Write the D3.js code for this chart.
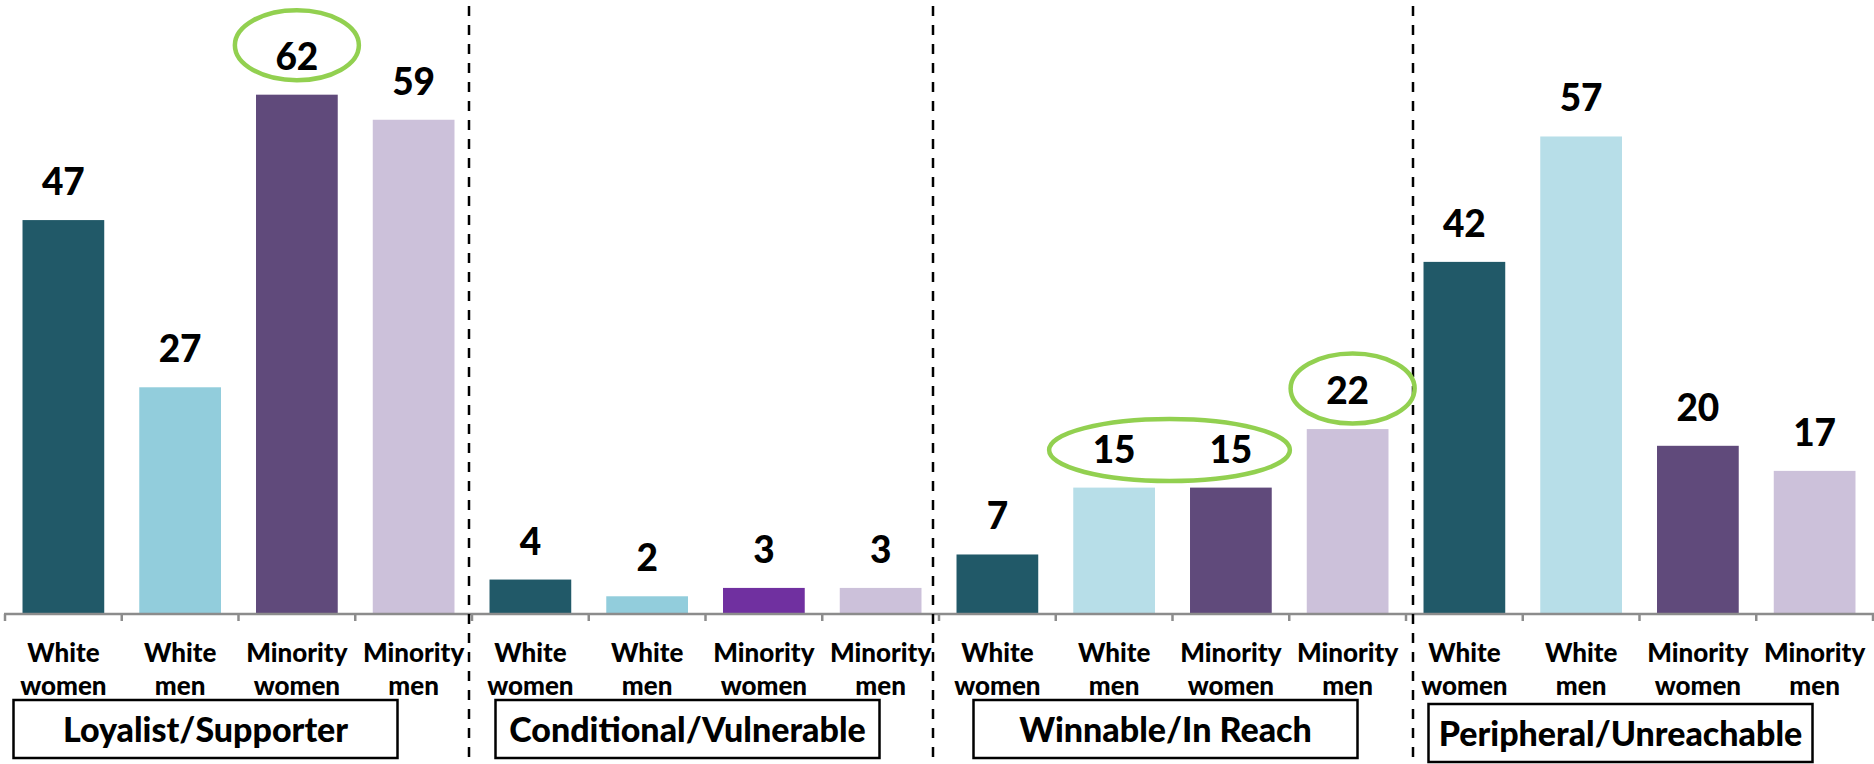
<!DOCTYPE html>
<html>
<head>
<meta charset="utf-8">
<script src="https://cdn.jsdelivr.net/npm/d3@7"></script>
<style>
  html, body { margin: 0; padding: 0; background: #fff; }
  svg { display: block; font-family: Lato, "Open Sans", sans-serif; font-weight: 900; }
</style>
</head>
<body>
<div id="chart"></div>
<script>
// data
const segments = ["Loyalist/Supporter", "Conditional/Vulnerable", "Winnable/In Reach", "Peripheral/Unreachable"];
const groups = [["White", "women"], ["White", "men"], ["Minority", "women"], ["Minority", "men"]];
const loyalist = [47, 27, 62, 59];
const conditional = [4, 2, 3, 3];
const winnable = [7, 15, 15, 22];
const peripheral = [42, 57, 20, 17];
// highlighted labels (first and last bar index of each ring)
const rings = [[2, 2], [9, 10], [11, 11]];

// styles
const segmentColors = [
  ["#215968", "#92cddc", "#604a7b", "#ccc1da"],
  ["#215968", "#92cddc", "#7030a0", "#ccc1da"],
  ["#215968", "#b7dee8", "#604a7b", "#ccc1da"],
  ["#215968", "#b7dee8", "#604a7b", "#ccc1da"],
];
const ringNudge = [[0, -11], [-3, 1], [5, -2]];
const dividerNudge = [-3, -6, 7];
const boxNudge = [-33, -18, -7, -19];

const width = 1874;
const height = 764;
const baseY = 613;

const rows = [];
[loyalist, conditional, winnable, peripheral].forEach((vals, s) => {
  vals.forEach((v, g) => {
    rows.push({ i: s * 4 + g, seg: s, grp: g, value: v, color: segmentColors[s][g] });
  });
});

const svg = d3.select("#chart").append("svg").attr("width", width).attr("height", height);

const x = d3.scaleBand()
  .domain(d3.range(rows.length))
  .range([5, 1873])
  .paddingInner(0.3)
  .paddingOuter(0.15);
const step = x.step();
const center = (i) => x(i) + x.bandwidth() / 2;
const edge = (i) => x(i) - step * 0.15;

const y = d3.scaleLinear().domain([0, 70]).range([baseY, baseY - 70 * 8.36]);

// Draw bars
svg.append("g")
  .selectAll("rect")
  .data(rows)
  .enter()
  .append("rect")
  .attr("x", (d) => x(d.i))
  .attr("width", x.bandwidth())
  .attr("y", (d) => y(d.value))
  .attr("height", (d) => y(0) - y(d.value))
  .attr("fill", (d) => d.color);

// Value labels
svg.append("g")
  .selectAll("text")
  .data(rows)
  .enter()
  .append("text")
  .attr("x", (d) => center(d.i))
  .attr("y", (d) => y(d.value) - 25)
  .attr("text-anchor", "middle")
  .attr("font-size", 37)
  .attr("fill", "#000")
  .text((d) => d.value);

// Axis line and ticks
const axis = svg.append("g").attr("stroke", "#8c8c8c").attr("stroke-width", 2.5);
axis.append("line").attr("x1", 4).attr("x2", width).attr("y1", baseY + 1).attr("y2", baseY + 1);
axis.selectAll(".tick")
  .data(d3.range(rows.length + 1))
  .enter()
  .append("line")
  .attr("x1", (i) => (i < rows.length ? edge(i) : 1873))
  .attr("x2", (i) => (i < rows.length ? edge(i) : 1873))
  .attr("y1", baseY + 1)
  .attr("y2", baseY + 8);

// Category labels
const cat = svg.append("g")
  .selectAll("text")
  .data(rows)
  .enter()
  .append("text")
  .attr("text-anchor", "middle")
  .attr("font-size", 26)
  .attr("fill", "#000");
cat.append("tspan").attr("x", (d) => center(d.i)).attr("y", 662).text((d) => groups[d.grp][0]);
cat.append("tspan").attr("x", (d) => center(d.i)).attr("y", 695).text((d) => groups[d.grp][1]);

// Dashed dividers between segments
svg.append("g")
  .selectAll("line")
  .data([4, 8, 12])
  .enter()
  .append("line")
  .attr("x1", (d, k) => edge(d) + dividerNudge[k])
  .attr("x2", (d, k) => edge(d) + dividerNudge[k])
  .attr("y1", 6)
  .attr("y2", height)
  .attr("stroke", "#000")
  .attr("stroke-width", 2.5)
  .attr("stroke-dasharray", "10,9");

// Segment boxes
const boxW = 384;
const boxes = svg.append("g")
  .selectAll("g")
  .data(segments)
  .enter()
  .append("g")
  .attr("transform", (d, s) => {
    const mid = (edge(s * 4) + edge(s * 4 + 3) + step) / 2 + boxNudge[s];
    return `translate(${mid - boxW / 2}, ${s === 3 ? 704 : 700})`;
  });
boxes.append("rect")
  .attr("width", boxW)
  .attr("height", 58)
  .attr("fill", "#fff")
  .attr("stroke", "#000")
  .attr("stroke-width", 2.5);
boxes.append("text")
  .attr("x", boxW / 2)
  .attr("y", 42)
  .attr("text-anchor", "middle")
  .attr("font-size", 34)
  .attr("fill", "#000")
  .text((d) => d);

// Green rings around highlighted labels
svg.append("g")
  .selectAll("ellipse")
  .data(rings)
  .enter()
  .append("ellipse")
  .attr("cx", (d, k) => (center(d[0]) + center(d[1])) / 2 + ringNudge[k][0])
  .attr("cy", (d, k) => y(rows[d[0]].value) - 25 - 13.5 + ringNudge[k][1])
  .attr("rx", (d) => (center(d[1]) - center(d[0])) / 2 + 62)
  .attr("ry", (d) => (d[0] === d[1] ? 35 : 31))
  .attr("fill", "none")
  .attr("stroke", "#92d050")
  .attr("stroke-width", 4.5);
</script>
</body>
</html>
